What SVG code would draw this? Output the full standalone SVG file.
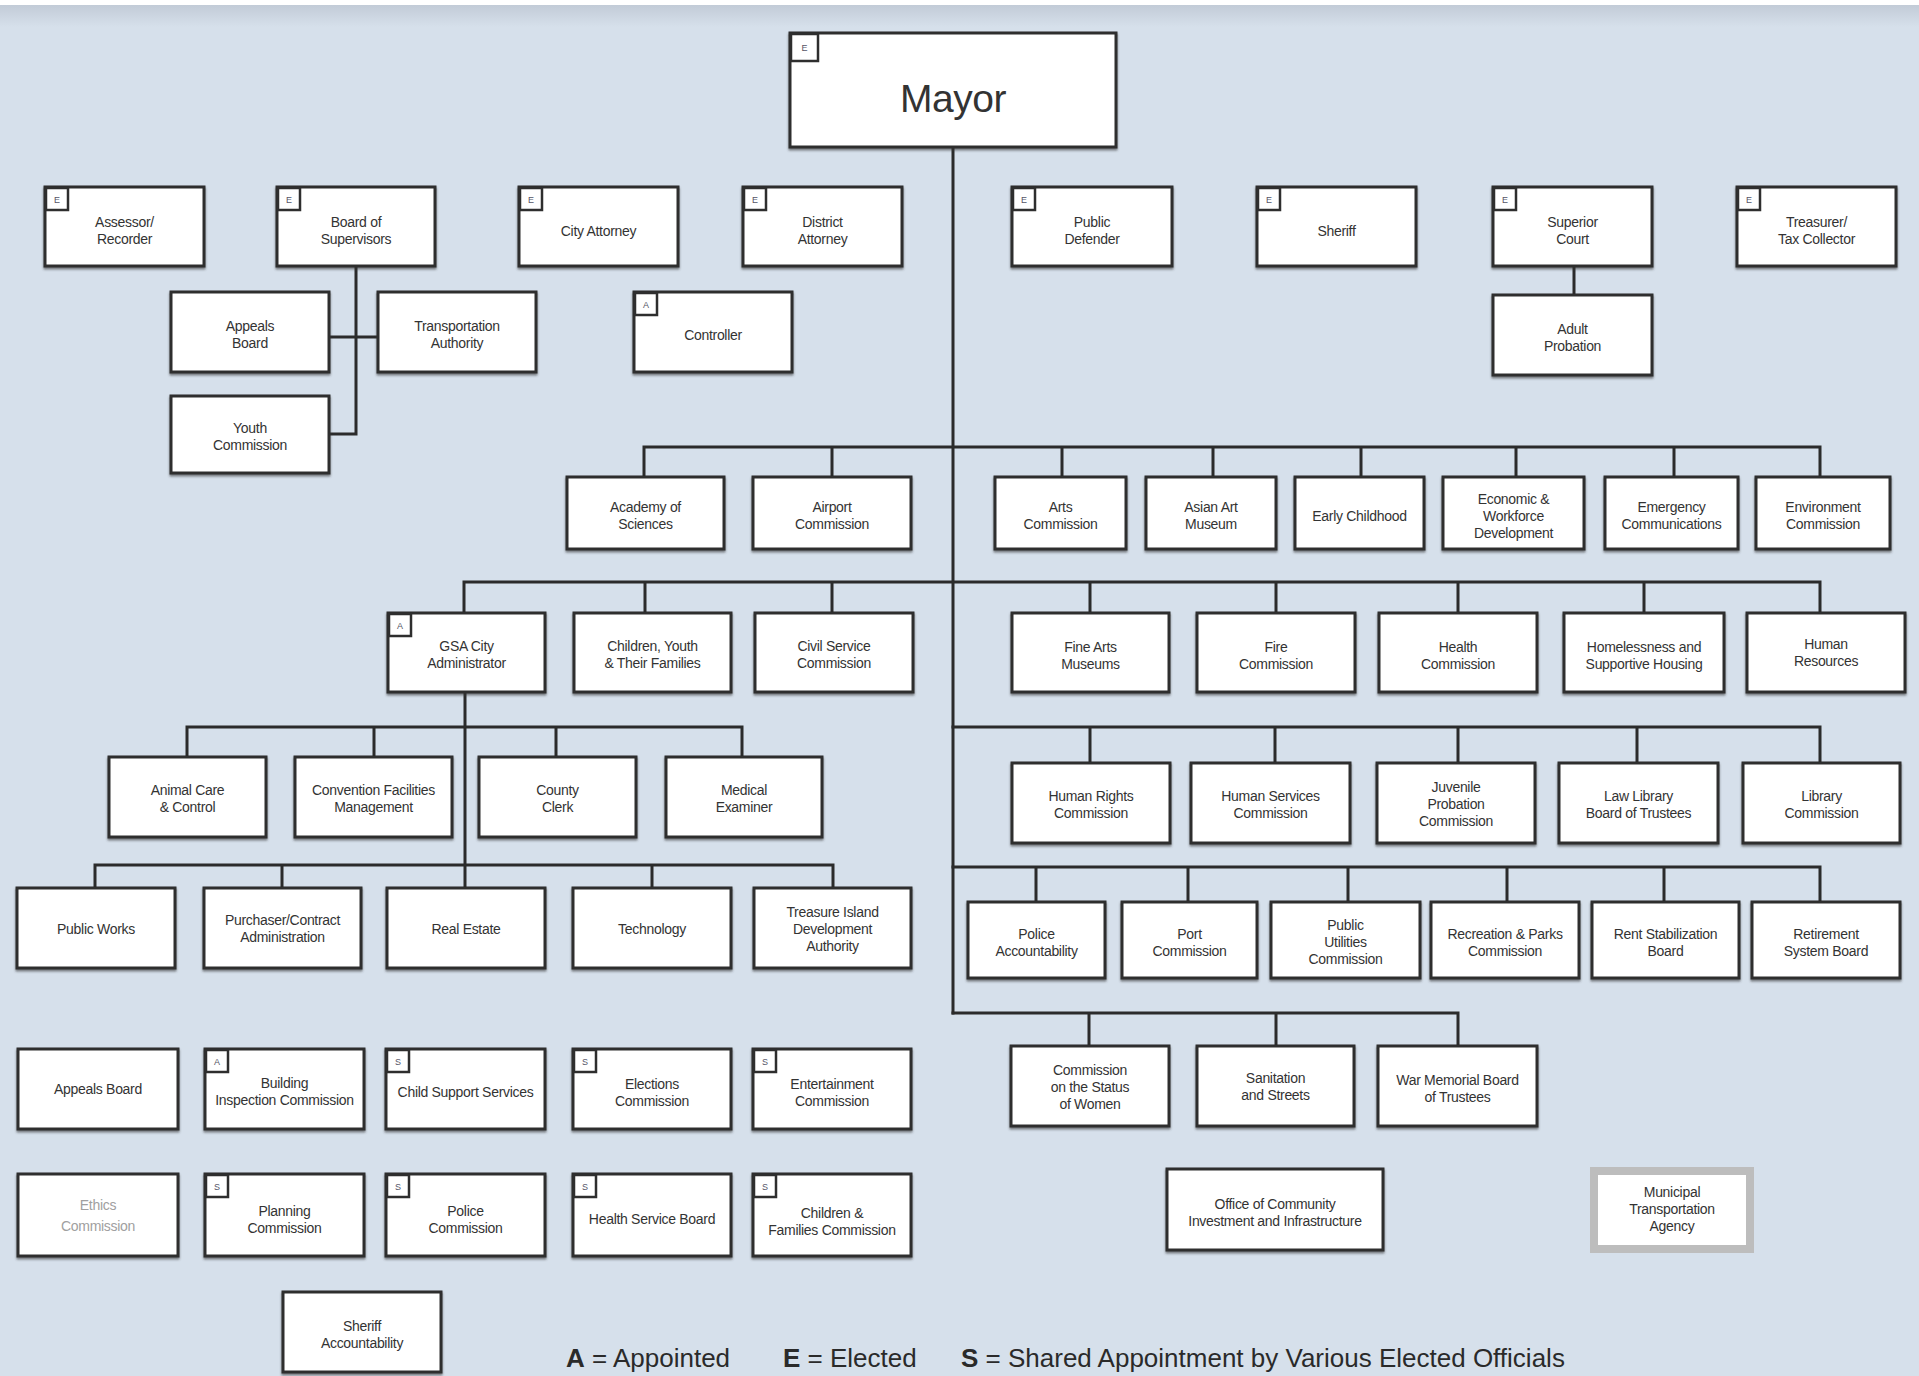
<svg xmlns="http://www.w3.org/2000/svg" width="1919" height="1376" viewBox="0 0 1919 1376">
<defs>
<linearGradient id="topg" x1="0" y1="0" x2="0" y2="1">
<stop offset="0" stop-color="#c2cbd7"/>
<stop offset="1" stop-color="#d6e0eb"/>
</linearGradient>
<filter id="sh" x="-5%" y="-5%" width="110%" height="120%">
<feDropShadow dx="0" dy="2" stdDeviation="0.8" flood-color="#333" flood-opacity="0.6"/>
</filter>
<style>
.box{fill:#fff;stroke:#2e2e2e;stroke-width:3;filter:url(#sh)}
.bd{fill:#fff;stroke:#2e2e2e;stroke-width:2.5}
.bl{font-family:"Liberation Sans",Arial,sans-serif;font-size:9px;fill:#556;text-anchor:middle}
.t{font-family:"Liberation Sans",Arial,sans-serif;font-size:14px;fill:#333;text-anchor:middle;letter-spacing:-0.3px}
.c{fill:none;stroke:#2b2b2b;stroke-width:3;stroke-linecap:square}
.lg{font-family:"Liberation Sans",Arial,sans-serif;font-size:26px;fill:#2a2a2a}
.gray{fill:#9a9a9a}
</style>
</defs>
<rect x="0" y="0" width="1919" height="1376" fill="#d6e0eb"/>
<rect x="0" y="0" width="1919" height="5" fill="#fff"/>
<rect x="0" y="5" width="1919" height="22" fill="url(#topg)"/>

<g id="connectors">
<path class="c" d="M953 147 V1013"/>
<path class="c" d="M356 266 V434 H329 M329 337 H378"/>
<path class="c" d="M1574 266 V295"/>
<path class="c" d="M644 477 V447 H1820 V477 M832 447 V477 M1062 447 V477 M1213 447 V477 M1361 447 V477 M1516 447 V477 M1674 447 V477"/>
<path class="c" d="M464 613 V582 H1820 V613 M645 582 V613 M832 582 V613 M1090 582 V613 M1276 582 V613 M1458 582 V613 M1644 582 V613"/>
<path class="c" d="M465 692 V888"/>
<path class="c" d="M187 757 V727 H742 V757 M374 727 V757 M556 727 V757"/>
<path class="c" d="M95 888 V865 H833 V888 M282 865 V888 M652 865 V888"/>
<path class="c" d="M953 727 H1820 V763 M1090 727 V763 M1275 727 V763 M1458 727 V763 M1637 727 V763"/>
<path class="c" d="M953 867 H1820 V902 M1036 867 V902 M1188 867 V902 M1348 867 V902 M1507 867 V902 M1664 867 V902"/>
<path class="c" d="M953 1013 H1458 V1046 M1089 1013 V1046 M1276 1013 V1046"/>
</g>

<g id="mayor">
<rect class="box" x="790" y="33" width="326" height="114"/>
<rect class="bd" x="791" y="34" width="27" height="27"/>
<text class="bl" x="804.5" y="51">E</text>
<text x="953" y="112" font-family="Liberation Sans,Arial,sans-serif" font-size="39" fill="#333" text-anchor="middle" letter-spacing="-0.5">Mayor</text>
</g>

<g id="assessor"><rect class="box" x="45" y="187" width="159" height="79"/><rect class="bd" x="46" y="188" width="22" height="22"/><text class="bl" x="57" y="203">E</text><text class="t" x="124.5" y="227">Assessor/</text><text class="t" x="124.5" y="244">Recorder</text></g>
<g id="board-of-supervisors"><rect class="box" x="277" y="187" width="158" height="79"/><rect class="bd" x="278" y="188" width="22" height="22"/><text class="bl" x="289" y="203">E</text><text class="t" x="356" y="227">Board of</text><text class="t" x="356" y="244">Supervisors</text></g>
<g id="city-attorney"><rect class="box" x="519" y="187" width="159" height="79"/><rect class="bd" x="520" y="188" width="22" height="22"/><text class="bl" x="531" y="203">E</text><text class="t" x="598.5" y="236">City Attorney</text></g>
<g id="district-attorney"><rect class="box" x="743" y="187" width="159" height="79"/><rect class="bd" x="744" y="188" width="22" height="22"/><text class="bl" x="755" y="203">E</text><text class="t" x="822.5" y="227">District</text><text class="t" x="822.5" y="244">Attorney</text></g>
<g id="public-defender"><rect class="box" x="1012" y="187" width="160" height="79"/><rect class="bd" x="1013" y="188" width="22" height="22"/><text class="bl" x="1024" y="203">E</text><text class="t" x="1092" y="227">Public</text><text class="t" x="1092" y="244">Defender</text></g>
<g id="sheriff"><rect class="box" x="1257" y="187" width="159" height="79"/><rect class="bd" x="1258" y="188" width="22" height="22"/><text class="bl" x="1269" y="203">E</text><text class="t" x="1336.5" y="236">Sheriff</text></g>
<g id="superior-court"><rect class="box" x="1493" y="187" width="159" height="79"/><rect class="bd" x="1494" y="188" width="22" height="22"/><text class="bl" x="1505" y="203">E</text><text class="t" x="1572.5" y="227">Superior</text><text class="t" x="1572.5" y="244">Court</text></g>
<g id="treasurer"><rect class="box" x="1737" y="187" width="159" height="79"/><rect class="bd" x="1738" y="188" width="22" height="22"/><text class="bl" x="1749" y="203">E</text><text class="t" x="1816.5" y="227">Treasurer/</text><text class="t" x="1816.5" y="244">Tax Collector</text></g>

<g id="appeals-board-bos"><rect class="box" x="171" y="292" width="158" height="80"/><text class="t" x="250" y="331">Appeals</text><text class="t" x="250" y="348">Board</text></g>
<g id="transportation-authority"><rect class="box" x="378" y="292" width="158" height="80"/><text class="t" x="457" y="331">Transportation</text><text class="t" x="457" y="348">Authority</text></g>
<g id="controller"><rect class="box" x="634" y="292" width="158" height="80"/><rect class="bd" x="635" y="293" width="22" height="22"/><text class="bl" x="646" y="308">A</text><text class="t" x="713" y="340">Controller</text></g>
<g id="youth-commission"><rect class="box" x="171" y="396" width="158" height="77"/><text class="t" x="250" y="433">Youth</text><text class="t" x="250" y="450">Commission</text></g>
<g id="adult-probation"><rect class="box" x="1493" y="295" width="159" height="80"/><text class="t" x="1572.5" y="334">Adult</text><text class="t" x="1572.5" y="351">Probation</text></g>

<g id="academy"><rect class="box" x="567" y="477" width="157" height="72"/><text class="t" x="645.5" y="512">Academy of</text><text class="t" x="645.5" y="529">Sciences</text></g>
<g id="airport"><rect class="box" x="753" y="477" width="158" height="72"/><text class="t" x="832" y="512">Airport</text><text class="t" x="832" y="529">Commission</text></g>
<g id="arts"><rect class="box" x="995" y="477" width="131" height="72"/><text class="t" x="1060.5" y="512">Arts</text><text class="t" x="1060.5" y="529">Commission</text></g>
<g id="asian-art"><rect class="box" x="1146" y="477" width="130" height="72"/><text class="t" x="1211" y="512">Asian Art</text><text class="t" x="1211" y="529">Museum</text></g>
<g id="early-childhood"><rect class="box" x="1295" y="477" width="129" height="72"/><text class="t" x="1359.5" y="521">Early Childhood</text></g>
<g id="economic"><rect class="box" x="1443" y="477" width="141" height="72"/><text class="t" x="1513.5" y="504">Economic &amp;</text><text class="t" x="1513.5" y="521">Workforce</text><text class="t" x="1513.5" y="538">Development</text></g>
<g id="emergency"><rect class="box" x="1605" y="477" width="133" height="72"/><text class="t" x="1671.5" y="512">Emergency</text><text class="t" x="1671.5" y="529">Communications</text></g>
<g id="environment"><rect class="box" x="1756" y="477" width="134" height="72"/><text class="t" x="1823" y="512">Environment</text><text class="t" x="1823" y="529">Commission</text></g>

<g id="gsa"><rect class="box" x="388" y="613" width="157" height="79"/><rect class="bd" x="389" y="614" width="22" height="22"/><text class="bl" x="400" y="629">A</text><text class="t" x="466.5" y="651">GSA City</text><text class="t" x="466.5" y="668">Administrator</text></g>
<g id="children-youth"><rect class="box" x="574" y="613" width="157" height="79"/><text class="t" x="652.5" y="651">Children, Youth</text><text class="t" x="652.5" y="668">&amp; Their Families</text></g>
<g id="civil-service"><rect class="box" x="755" y="613" width="158" height="79"/><text class="t" x="834" y="651">Civil Service</text><text class="t" x="834" y="668">Commission</text></g>
<g id="fine-arts"><rect class="box" x="1012" y="613" width="157" height="79"/><text class="t" x="1090.5" y="652">Fine Arts</text><text class="t" x="1090.5" y="669">Museums</text></g>
<g id="fire"><rect class="box" x="1197" y="613" width="158" height="79"/><text class="t" x="1276" y="652">Fire</text><text class="t" x="1276" y="669">Commission</text></g>
<g id="health"><rect class="box" x="1379" y="613" width="158" height="79"/><text class="t" x="1458" y="652">Health</text><text class="t" x="1458" y="669">Commission</text></g>
<g id="homelessness"><rect class="box" x="1564" y="613" width="160" height="79"/><text class="t" x="1644" y="652">Homelessness and</text><text class="t" x="1644" y="669">Supportive Housing</text></g>
<g id="human-resources"><rect class="box" x="1747" y="613" width="158" height="79"/><text class="t" x="1826" y="649">Human</text><text class="t" x="1826" y="666">Resources</text></g>

<g id="animal-care"><rect class="box" x="109" y="757" width="157" height="80"/><text class="t" x="187.5" y="795">Animal Care</text><text class="t" x="187.5" y="812">&amp; Control</text></g>
<g id="convention"><rect class="box" x="295" y="757" width="157" height="80"/><text class="t" x="373.5" y="795">Convention Facilities</text><text class="t" x="373.5" y="812">Management</text></g>
<g id="county-clerk"><rect class="box" x="479" y="757" width="157" height="80"/><text class="t" x="557.5" y="795">County</text><text class="t" x="557.5" y="812">Clerk</text></g>
<g id="medical-examiner"><rect class="box" x="666" y="757" width="156" height="80"/><text class="t" x="744" y="795">Medical</text><text class="t" x="744" y="812">Examiner</text></g>

<g id="public-works"><rect class="box" x="17" y="888" width="158" height="80"/><text class="t" x="96" y="934">Public Works</text></g>
<g id="purchaser"><rect class="box" x="204" y="888" width="157" height="80"/><text class="t" x="282.5" y="925">Purchaser/Contract</text><text class="t" x="282.5" y="942">Administration</text></g>
<g id="real-estate"><rect class="box" x="387" y="888" width="158" height="80"/><text class="t" x="466" y="934">Real Estate</text></g>
<g id="technology"><rect class="box" x="573" y="888" width="158" height="80"/><text class="t" x="652" y="934">Technology</text></g>
<g id="treasure-island"><rect class="box" x="754" y="888" width="157" height="80"/><text class="t" x="832.5" y="917">Treasure Island</text><text class="t" x="832.5" y="934">Development</text><text class="t" x="832.5" y="951">Authority</text></g>

<g id="human-rights"><rect class="box" x="1012" y="763" width="158" height="80"/><text class="t" x="1091" y="801">Human Rights</text><text class="t" x="1091" y="818">Commission</text></g>
<g id="human-services"><rect class="box" x="1191" y="763" width="159" height="80"/><text class="t" x="1270.5" y="801">Human Services</text><text class="t" x="1270.5" y="818">Commission</text></g>
<g id="juvenile-probation"><rect class="box" x="1377" y="763" width="158" height="80"/><text class="t" x="1456" y="792">Juvenile</text><text class="t" x="1456" y="809">Probation</text><text class="t" x="1456" y="826">Commission</text></g>
<g id="law-library"><rect class="box" x="1559" y="763" width="159" height="80"/><text class="t" x="1638.5" y="801">Law Library</text><text class="t" x="1638.5" y="818">Board of Trustees</text></g>
<g id="library"><rect class="box" x="1743" y="763" width="157" height="80"/><text class="t" x="1821.5" y="801">Library</text><text class="t" x="1821.5" y="818">Commission</text></g>

<g id="police-accountability"><rect class="box" x="968" y="902" width="137" height="76"/><text class="t" x="1036.5" y="939">Police</text><text class="t" x="1036.5" y="956">Accountability</text></g>
<g id="port"><rect class="box" x="1122" y="902" width="135" height="76"/><text class="t" x="1189.5" y="939">Port</text><text class="t" x="1189.5" y="956">Commission</text></g>
<g id="public-utilities"><rect class="box" x="1271" y="902" width="149" height="76"/><text class="t" x="1345.5" y="930">Public</text><text class="t" x="1345.5" y="947">Utilities</text><text class="t" x="1345.5" y="964">Commission</text></g>
<g id="recreation-parks"><rect class="box" x="1431" y="902" width="148" height="76"/><text class="t" x="1505" y="939">Recreation &amp; Parks</text><text class="t" x="1505" y="956">Commission</text></g>
<g id="rent-stabilization"><rect class="box" x="1592" y="902" width="147" height="76"/><text class="t" x="1665.5" y="939">Rent Stabilization</text><text class="t" x="1665.5" y="956">Board</text></g>
<g id="retirement"><rect class="box" x="1752" y="902" width="148" height="76"/><text class="t" x="1826" y="939">Retirement</text><text class="t" x="1826" y="956">System Board</text></g>

<g id="status-of-women"><rect class="box" x="1011" y="1046" width="158" height="80"/><text class="t" x="1090" y="1075">Commission</text><text class="t" x="1090" y="1092">on the Status</text><text class="t" x="1090" y="1109">of Women</text></g>
<g id="sanitation"><rect class="box" x="1197" y="1046" width="157" height="80"/><text class="t" x="1275.5" y="1083">Sanitation</text><text class="t" x="1275.5" y="1100">and Streets</text></g>
<g id="war-memorial"><rect class="box" x="1378" y="1046" width="159" height="80"/><text class="t" x="1457.5" y="1085">War Memorial Board</text><text class="t" x="1457.5" y="1102">of Trustees</text></g>

<g id="ocii"><rect class="box" x="1167" y="1169" width="216" height="81"/><text class="t" x="1275" y="1209">Office of Community</text><text class="t" x="1275" y="1226">Investment and Infrastructure</text></g>
<g id="mta"><rect x="1594" y="1171" width="156" height="78" fill="#fff" stroke="#bdbdbd" stroke-width="8"/><text class="t" x="1672" y="1197">Municipal</text><text class="t" x="1672" y="1214">Transportation</text><text class="t" x="1672" y="1231">Agency</text></g>

<g id="appeals-board"><rect class="box" x="18" y="1049" width="160" height="80"/><text class="t" x="98" y="1094">Appeals Board</text></g>
<g id="building-inspection"><rect class="box" x="205" y="1049" width="159" height="80"/><rect class="bd" x="206" y="1050" width="22" height="22"/><text class="bl" x="217" y="1065">A</text><text class="t" x="284.5" y="1088">Building</text><text class="t" x="284.5" y="1105">Inspection Commission</text></g>
<g id="child-support"><rect class="box" x="386" y="1049" width="159" height="80"/><rect class="bd" x="387" y="1050" width="22" height="22"/><text class="bl" x="398" y="1065">S</text><text class="t" x="465.5" y="1097">Child Support Services</text></g>
<g id="elections"><rect class="box" x="573" y="1049" width="158" height="80"/><rect class="bd" x="574" y="1050" width="22" height="22"/><text class="bl" x="585" y="1065">S</text><text class="t" x="652" y="1089">Elections</text><text class="t" x="652" y="1106">Commission</text></g>
<g id="entertainment"><rect class="box" x="753" y="1049" width="158" height="80"/><rect class="bd" x="754" y="1050" width="22" height="22"/><text class="bl" x="765" y="1065">S</text><text class="t" x="832" y="1089">Entertainment</text><text class="t" x="832" y="1106">Commission</text></g>

<g id="ethics"><rect class="box" x="18" y="1174" width="160" height="82"/><text class="t gray" x="98" y="1210" style="fill:#a0a0a0">Ethics</text><text class="t gray" x="98" y="1231" style="fill:#a0a0a0">Commission</text></g>
<g id="planning"><rect class="box" x="205" y="1174" width="159" height="82"/><rect class="bd" x="206" y="1175" width="22" height="22"/><text class="bl" x="217" y="1190">S</text><text class="t" x="284.5" y="1216">Planning</text><text class="t" x="284.5" y="1233">Commission</text></g>
<g id="police-commission"><rect class="box" x="386" y="1174" width="159" height="82"/><rect class="bd" x="387" y="1175" width="22" height="22"/><text class="bl" x="398" y="1190">S</text><text class="t" x="465.5" y="1216">Police</text><text class="t" x="465.5" y="1233">Commission</text></g>
<g id="health-service-board"><rect class="box" x="573" y="1174" width="158" height="82"/><rect class="bd" x="574" y="1175" width="22" height="22"/><text class="bl" x="585" y="1190">S</text><text class="t" x="652" y="1224">Health Service Board</text></g>
<g id="children-families"><rect class="box" x="753" y="1174" width="158" height="82"/><rect class="bd" x="754" y="1175" width="22" height="22"/><text class="bl" x="765" y="1190">S</text><text class="t" x="832" y="1218">Children &amp;</text><text class="t" x="832" y="1235">Families Commission</text></g>

<g id="sheriff-accountability"><rect class="box" x="283" y="1292" width="158" height="80"/><text class="t" x="362" y="1331">Sheriff</text><text class="t" x="362" y="1348">Accountability</text></g>

<g id="legend">
<text class="lg" x="566" y="1367"><tspan font-weight="bold">A</tspan> = Appointed</text>
<text class="lg" x="783" y="1367"><tspan font-weight="bold">E</tspan> = Elected</text>
<text class="lg" x="961" y="1367"><tspan font-weight="bold">S</tspan> = Shared Appointment by Various Elected Officials</text>
</g>
</svg>
